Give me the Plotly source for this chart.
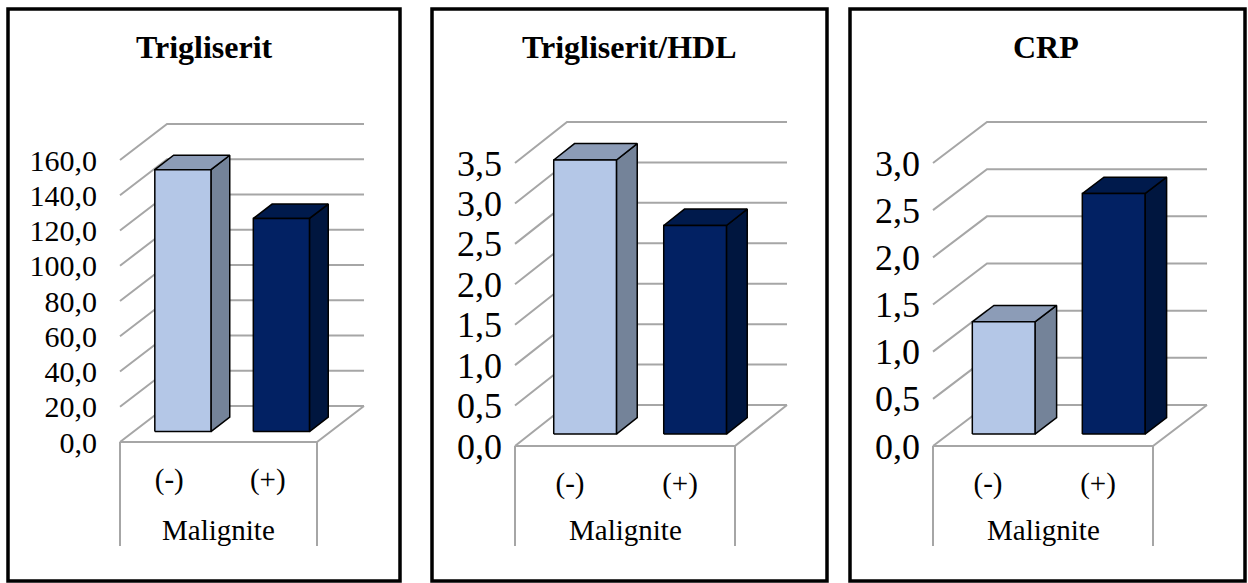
import plotly.graph_objects as go

# ---------------- data ----------------
categories = ["(-)", "(+)"]
category_title = "Malignite"
panel_titles = ["Trigliserit", "Trigliserit/HDL", "CRP"]

trigliserit = [148.6, 120.9]
trigliserit_hdl = [3.39, 2.58]
crp = [1.19, 2.55]

ticks_trigliserit = [0, 20, 40, 60, 80, 100, 120, 140, 160]
ticks_trigliserit_hdl = [0, 0.5, 1.0, 1.5, 2.0, 2.5, 3.0, 3.5]
ticks_crp = [0, 0.5, 1.0, 1.5, 2.0, 2.5, 3.0]

series = [trigliserit, trigliserit_hdl, crp]
tick_sets = [ticks_trigliserit, ticks_trigliserit_hdl, ticks_crp]

# ---------------- styling / layout geometry (pixels) ----------------
W, H = 1248, 583
FONT = "Liberation Serif"
GRID = "#A6A6A6"
front_cols = ["#B4C7E7", "#022163"]
side_cols = ["#748399", "#00163F"]
top_cols = ["#8C9CB7", "#001A4C"]

panels = [
    dict(box=(8, 9, 400, 581), fl=120, fr=317, zy=442, ty=160, dx=47, dy=36, gap=24, cx=204, tfs=30),
    dict(box=(432, 9, 827, 581), fl=515, fr=735, zy=446, ty=163, dx=52, dy=41, gap=14, cx=629, tfs=36),
    dict(box=(850, 9, 1245, 581), fl=933, fr=1153, zy=446, ty=163, dx=54, dy=41, gap=14, cx=1046, tfs=36),
]
PAD = 4
BAR_W = 0.57
F0, F1 = 0.29, 0.69
LINE_BOTTOM = 546

fig = go.Figure()
layout = dict(width=W, height=H, margin=dict(l=0, r=0, t=0, b=0, pad=0, autoexpand=False),
              paper_bgcolor="white", plot_bgcolor="rgba(0,0,0,0)",
              showlegend=False, shapes=[], annotations=[])


def fmt(v):
    return f"{v:.1f}".replace(".", ",")


for i, (p, vals, ticks, title) in enumerate(zip(panels, series, tick_sets, panel_titles)):
    n = i + 1
    xa, ya = f"x{n if n > 1 else ''}", f"y{n if n > 1 else ''}"
    vmax = ticks[-1]
    cat_px = (p["fr"] - p["fl"]) / 2.0
    ppu = (p["zy"] - p["ty"]) / vmax
    dxc = p["dx"] / cat_px
    dyv = p["dy"] / ppu
    padx, pady = PAD / cat_px, PAD / ppu

    # grid: side wall diagonals + back wall lines
    gx, gy = [], []
    for v in ticks:
        gx += [0, dxc, 2 + dxc, None]
        gy += [v, v + dyv, v + dyv, None]
    # floor front and right edges
    gx += [0, 2, 2 + dxc, None]
    gy += [0, 0, dyv, None]
    fig.add_trace(go.Scatter(x=gx, y=gy, mode="lines", xaxis=xa, yaxis=ya,
                             line=dict(color=GRID, width=2), hoverinfo="skip"))

    # 3D bars
    for j, v in enumerate(vals):
        c = j + 0.5
        xl = c - BAR_W / 2 + F0 * dxc
        xr = c + BAR_W / 2 + F0 * dxc
        b0 = F0 * dyv
        ddx = (F1 - F0) * dxc
        ddy = (F1 - F0) * dyv
        # side face
        fig.add_trace(go.Scatter(
            x=[xr, xr + ddx, xr + ddx, xr, xr],
            y=[b0, b0 + ddy, v + b0 + ddy, v + b0, b0],
            mode="lines", fill="toself", fillcolor=side_cols[j],
            line=dict(color="black", width=1.5), xaxis=xa, yaxis=ya, hoverinfo="skip"))
        # top face
        fig.add_trace(go.Scatter(
            x=[xl, xr, xr + ddx, xl + ddx, xl],
            y=[v + b0, v + b0, v + b0 + ddy, v + b0 + ddy, v + b0],
            mode="lines", fill="toself", fillcolor=top_cols[j],
            line=dict(color="black", width=1.5), xaxis=xa, yaxis=ya, hoverinfo="skip"))
        # front face
        fig.add_trace(go.Scatter(
            x=[xl, xr, xr, xl, xl],
            y=[b0, b0, v + b0, v + b0, b0],
            mode="lines", fill="toself", fillcolor=front_cols[j],
            line=dict(color="black", width=1.5), xaxis=xa, yaxis=ya,
            name=categories[j], hovertemplate=f"{categories[j]}: {fmt(v)}<extra></extra>"))

    # axes
    x0px, x1px = p["fl"] - PAD, p["fr"] + p["dx"] + PAD
    ybot, ytop = p["zy"] + PAD, p["ty"] - p["dy"] - PAD
    layout[f"xaxis{n if n > 1 else ''}"] = dict(
        domain=[x0px / W, x1px / W], range=[-padx, 2 + dxc + padx], automargin=False,
        anchor=ya, tickmode="array", tickvals=[0.5, 1.5], ticktext=categories,
        showgrid=False, zeroline=False, showline=False, ticks="", ticklen=0,
        ticklabelstandoff=13, tickfont=dict(family=FONT, size=29, color="black"),
        fixedrange=True)
    layout[f"yaxis{n if n > 1 else ''}"] = dict(
        domain=[1 - ybot / H, 1 - ytop / H], range=[-pady, vmax + dyv + pady], automargin=False,
        anchor=xa, tickmode="array", tickvals=ticks, ticktext=[fmt(t) for t in ticks],
        showgrid=False, zeroline=False, showline=False, ticks="", ticklen=0,
        ticklabelstandoff=p["gap"] - PAD - 2, tickfont=dict(family=FONT, size=p["tfs"], color="black"),
        fixedrange=True)

    # category axis title
    layout["annotations"].append(dict(text=category_title, xref=xa, yref="paper",
                                      x=1, y=1 - 530 / H, xanchor="center", yanchor="middle",
                                      showarrow=False, font=dict(family=FONT, size=29, color="black")))

    # category box vertical lines
    for xv in (0, 2):
        layout["shapes"].append(dict(type="line", xref=xa, yref="paper",
                                     x0=xv, x1=xv, y0=1 - p["zy"] / H, y1=1 - LINE_BOTTOM / H,
                                     line=dict(color=GRID, width=2)))
    # panel border
    bx0, by0, bx1, by1 = p["box"]
    layout["shapes"].append(dict(type="rect", xref="paper", yref="paper",
                                 x0=bx0 / W, x1=bx1 / W, y0=1 - by1 / H, y1=1 - by0 / H,
                                 line=dict(color="black", width=3.5), fillcolor="rgba(0,0,0,0)",
                                 layer="above"))
    # title
    layout["annotations"].append(dict(text=f"<b>{title}</b>", xref="paper", yref="paper",
                                      x=p["cx"] / W, y=1 - 47 / H, xanchor="center", yanchor="middle",
                                      showarrow=False, font=dict(family=FONT, size=32, color="black")))

fig.update_layout(**layout)
fig.write_html(
    "out.html",
    config={"displayModeBar": False},
    post_script=(
        "document.documentElement.style.margin='0px';"
        "document.documentElement.style.overflow='hidden';"
        "document.body.style.margin='0px';"
        "document.body.style.overflow='hidden';"
    ),
)
